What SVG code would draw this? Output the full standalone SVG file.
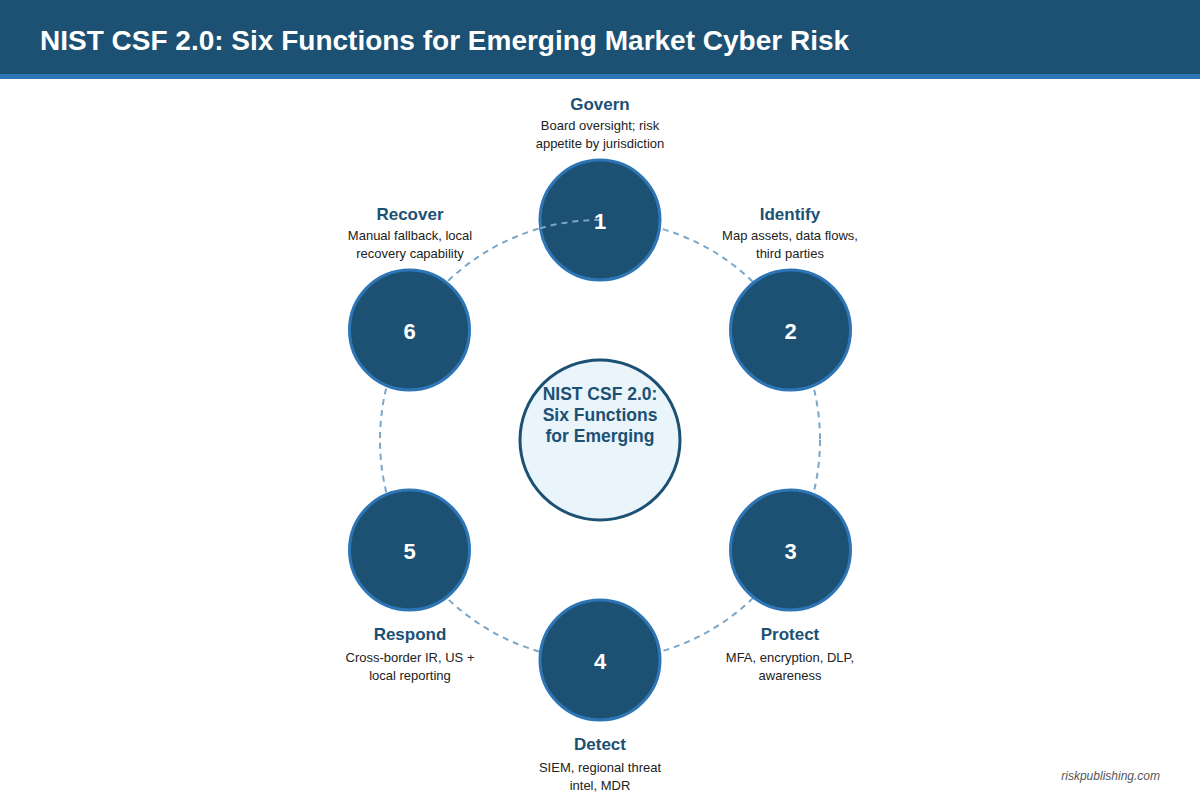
<svg xmlns="http://www.w3.org/2000/svg" width="1200" height="800" viewBox="0 0 1200 800">
<style>
.node{fill:#1c5173;stroke:#2e75b6;stroke-width:3}
.num{font-family:"Liberation Sans",Arial,sans-serif;font-size:22px;font-weight:bold;fill:#fff;text-anchor:middle}
.t{font-family:"Liberation Sans",Arial,sans-serif;font-size:17px;font-weight:bold;fill:#1c5173;text-anchor:middle}
.c{font-size:17.5px}
.d{font-family:"Liberation Sans",Arial,sans-serif;font-size:13px;fill:#222;text-anchor:middle}
.dash{fill:none;stroke:#7aa6c8;stroke-width:2;stroke-dasharray:6 5}
</style>
<rect width="1200" height="800" fill="#fff"/>
<rect width="1200" height="74" fill="#1c5173"/>
<rect y="74" width="1200" height="5" fill="#2e75b6"/>
<text x="40" y="50" font-family="Liberation Sans,Arial,sans-serif" font-size="28" font-weight="bold" fill="#fff">NIST CSF 2.0: Six Functions for Emerging Market Cyber Risk</text>
<g id="connectors">
<circle class="dash" cx="600" cy="440" r="220"/>
</g>
<g id="center"><circle cx="600" cy="440" r="80" fill="#eaf4fb" stroke="#1c5173" stroke-width="3"/>
<text class="t c" x="600" y="400">NIST CSF 2.0:</text>
<text class="t c" x="600" y="421">Six Functions</text>
<text class="t c" x="600" y="442">for Emerging</text></g>
<g id="n1"><circle class="node" cx="600" cy="220" r="60"/>
<path class="dash" d="M540 228.3 A220 220 0 0 1 600 220"/>
<text class="num" x="600" y="229">1</text>
<text class="t" x="600" y="110">Govern</text><text class="d" x="600" y="130">Board oversight; risk</text><text class="d" x="600" y="148">appetite by jurisdiction</text></g>
<g id="n2"><circle class="node" cx="790.5" cy="330" r="60"/><text class="num" x="790.5" y="339">2</text>
<text class="t" x="790" y="220">Identify</text><text class="d" x="790" y="240">Map assets, data flows,</text><text class="d" x="790" y="258">third parties</text></g>
<g id="n3"><circle class="node" cx="790.5" cy="550" r="60"/><text class="num" x="790.5" y="559">3</text>
<text class="t" x="790" y="640">Protect</text><text class="d" x="790" y="662">MFA, encryption, DLP,</text><text class="d" x="790" y="680">awareness</text></g>
<g id="n4"><circle class="node" cx="600" cy="660" r="60"/><text class="num" x="600" y="669">4</text>
<text class="t" x="600" y="750">Detect</text><text class="d" x="600" y="772">SIEM, regional threat</text><text class="d" x="600" y="790">intel, MDR</text></g>
<g id="n5"><circle class="node" cx="409.5" cy="550" r="60"/><text class="num" x="409.5" y="559">5</text>
<text class="t" x="410" y="640">Respond</text><text class="d" x="410" y="662">Cross-border IR, US +</text><text class="d" x="410" y="680">local reporting</text></g>
<g id="n6"><circle class="node" cx="409.5" cy="330" r="60"/><text class="num" x="409.5" y="339">6</text>
<text class="t" x="410" y="220">Recover</text><text class="d" x="410" y="240">Manual fallback, local</text><text class="d" x="410" y="258">recovery capability</text></g>
<text x="1160" y="780" text-anchor="end" font-family="Liberation Sans,Arial,sans-serif" font-size="12" font-style="italic" fill="#555">riskpublishing.com</text>
</svg>
